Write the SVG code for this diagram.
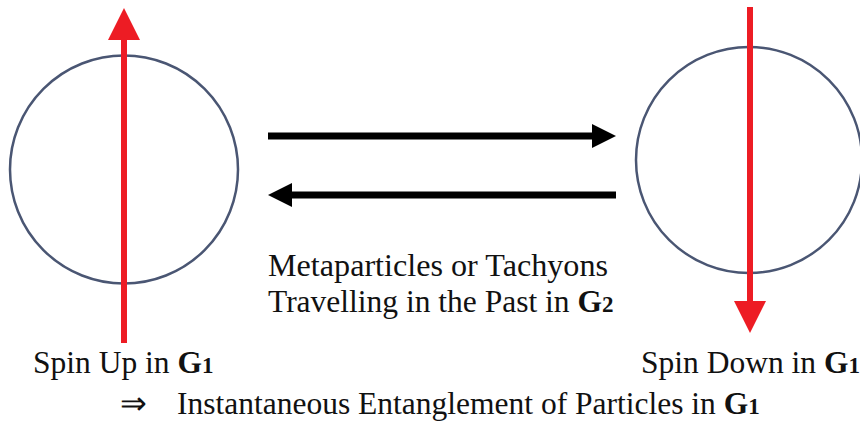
<svg xmlns="http://www.w3.org/2000/svg" width="860" height="422" viewBox="0 0 860 422">
<style>
.circ{fill:none;stroke:#4a5673;stroke-width:2.5}
.spin{stroke:#ed1c24;stroke-width:6;fill:none}
.head-red{fill:#ed1c24}
.flow{stroke:#000;stroke-width:7;fill:none}
.head-blk{fill:#000}
text{font-family:"Liberation Serif","Times New Roman",serif;font-size:31.5px;fill:#111}
.b{font-weight:bold}
.sub{font-weight:bold;font-size:23px}
</style>
<rect width="860" height="422" fill="#fff"/>
<g id="particle-up">
<circle class="circ" cx="124" cy="169.5" r="114"/>
<line class="spin" x1="124" y1="38" x2="124" y2="343"/>
<polygon class="head-red" points="124,8 108,40 140,40"/>
<text x="33" y="373">Spin Up in <tspan class="b">G</tspan><tspan class="sub">1</tspan></text>
</g>
<g id="particle-down">
<circle class="circ" cx="749" cy="160" r="113"/>
<line class="spin" x1="750" y1="7" x2="750" y2="303"/>
<polygon class="head-red" points="750,333 734,301 766,301"/>
<text x="641" y="373">Spin Down in <tspan class="b">G</tspan><tspan class="sub">1</tspan></text>
</g>
<g id="connectors">
<line class="flow" x1="268" y1="136" x2="594" y2="136"/>
<polygon class="head-blk" points="616,136 592,124 592,148"/>
<line class="flow" x1="616" y1="195" x2="290" y2="195"/>
<polygon class="head-blk" points="268,195 292,183 292,207"/>
</g>
<g id="label-tachyons">
<text x="268" y="276" textLength="340" lengthAdjust="spacingAndGlyphs">Metaparticles or Tachyons</text>
<text x="268" y="312">Travelling in the Past in <tspan class="b">G</tspan><tspan class="sub">2</tspan></text>
</g>
<g id="conclusion">
<text x="120" y="414">⇒</text>
<text x="177" y="414">Instantaneous Entanglement of Particles in <tspan class="b">G</tspan><tspan class="sub">1</tspan></text>
</g>
</svg>
